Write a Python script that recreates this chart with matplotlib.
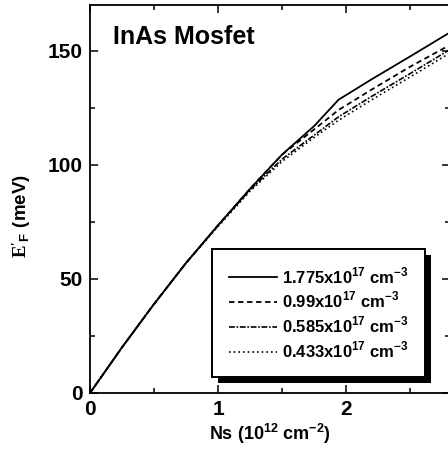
import matplotlib
matplotlib.use("Agg")
from matplotlib import pyplot as plt
from matplotlib.patches import Rectangle
from matplotlib.transforms import IdentityTransform
from matplotlib.ticker import MultipleLocator

plt.rcParams['font.family'] = ['Liberation Sans', 'DejaVu Sans']
plt.rcParams['font.weight'] = 'bold'
plt.rcParams['axes.labelweight'] = 'bold'
plt.rcParams['mathtext.fontset'] = 'custom'
plt.rcParams['mathtext.rm'] = 'Liberation Serif'
plt.rcParams['mathtext.bf'] = 'Liberation Sans:bold'

# Ns (10^12 cm^-2) and E'F (meV)
ns = [0, 0.25, 0.5, 0.75, 1.0, 1.25, 1.5, 1.75, 1.94, 2.2, 2.5, 2.81]
ef_1775 = [0, 20, 39, 57, 73.5, 89.5, 104.5, 117, 128.5, 137.5, 147.5, 158]
ef_099 = [0, 20, 39, 57, 73.5, 89.5, 104.5, 115.5, 124, 133, 143, 152.5]
ef_0585 = [0, 20, 39, 57, 73.5, 89, 102.5, 113, 121, 130, 140, 150.5]
ef_0433 = [0, 20, 39, 57, 73, 88.5, 101.5, 112, 119.5, 128.5, 138.5, 149]

labels = [r"1.775x10$^{\mathbf{17}}$ cm$^{\mathbf{-3}}$",
          r"0.99x10$^{\mathbf{17}}$ cm$^{\mathbf{-3}}$",
          r"0.585x10$^{\mathbf{17}}$ cm$^{\mathbf{-3}}$",
          r"0.433x10$^{\mathbf{17}}$ cm$^{\mathbf{-3}}$"]

fig = plt.figure(figsize=(4.48, 4.55), dpi=100)
ax = fig.add_axes([90 / 448, 1 - 393 / 455, 360 / 448, 388 / 455])

ax.plot(ns, ef_1775, color='k', lw=1.3, ls='-', label=labels[0])
ax.plot(ns, ef_099, color='k', lw=1.3, ls=(0, (3, 2)), label=labels[1])
ax.plot(ns, ef_0585, color='k', lw=1.2, ls=(0, (3.5, 1, 1, 1)), label=labels[2])
ax.plot(ns, ef_0433, color='k', lw=1.2, ls=(0, (1, 1.8)), label=labels[3])

ax.set_xlim(0, 2.81)
ax.set_ylim(0, 170)
ax.xaxis.set_major_locator(MultipleLocator(1))
ax.xaxis.set_minor_locator(MultipleLocator(0.5))
ax.yaxis.set_major_locator(MultipleLocator(50))
ax.yaxis.set_minor_locator(MultipleLocator(25))
ax.tick_params(which='both', direction='in', top=True, right=True, width=1.1,
               labelsize=15, pad=5)
ax.tick_params(which='major', length=6)
ax.tick_params(which='minor', length=3.5)
for s in ax.spines.values():
    s.set_linewidth(1.3)

ax.set_xlabel(r"Ns (10$^{\mathbf{12}}$ cm$^{\mathbf{-2}}$)", fontsize=13,
              fontweight='bold', labelpad=2)
ax.set_ylabel(r"$\mathrm{E'}_{\mathbf{F}}$ (meV)", fontsize=13.5, fontweight='bold')
ax.yaxis.set_label_coords(-0.157, 0.456)

ax.text(0.064, 0.918, "InAs Mosfet", transform=ax.transAxes, fontsize=18,
        fontweight='bold', va='center', ha='left')

leg = ax.legend(loc='lower left', bbox_to_anchor=(0.339, 0.041), borderaxespad=0,
                prop={'size': 12, 'weight': 'bold'}, handlelength=2.9,
                handletextpad=0.3, labelspacing=0.25, borderpad=1.0,
                fancybox=False, framealpha=1, edgecolor='k')
leg.get_frame().set_linewidth(1.4)
leg.set_zorder(5)

# heavy black drop shadow behind the legend box
fig.canvas.draw()
bb = leg.get_window_extent()
shadow = Rectangle((bb.x0 + 6, bb.y0 - 6), bb.width, bb.height, transform=IdentityTransform(),
                   facecolor='k', edgecolor='none', zorder=4)
ax.add_artist(shadow)

fig.savefig("out.png", dpi=100)
